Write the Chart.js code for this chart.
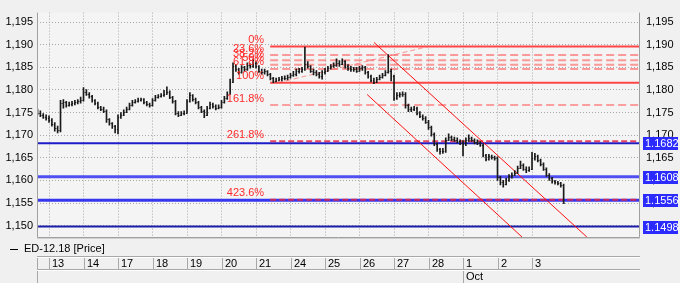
<!DOCTYPE html>
<html>
<head>
<meta charset="utf-8">
<script src="https://cdn.jsdelivr.net/npm/chart.js@4.4.0/dist/chart.umd.min.js"></script>
<style>
  html, body { margin: 0; padding: 0; background: #f0f0f0; }
  #wrap { width: 680px; height: 283px; position: relative; }
</style>
</head>
<body>
<div id="wrap"><canvas id="c"></canvas></div>
<script>
// ─── Eixo do tempo ────────────────────────────────
const dayLabels   = ['13','14','17','18','19','20','21','24','25','26','27','28','1','2','3'];
const monthLabel  = 'Oct';
const monthDayIdx = 12;          // "1" = 1 Oct
const barsPerDay  = 12;
const barsBefore  = 4;           // bars before the 13th
const seriesName  = 'ED-12.18 [Price]';

// ─── Eixo de preço ────────────────────────────────
const yTicks = [1.150, 1.155, 1.160, 1.165, 1.170, 1.175, 1.180, 1.185, 1.190, 1.195];
const yMin = 1.1475, yMax = 1.1971;

// ─── Barras OHLC (open = close anterior) ──────────
const open0 = 1.1754;
const close = [
  1.1750,1.1745,1.1741,1.1739,
  1.1733,1.1724,1.1715,1.1711,1.1771,1.1773,1.1767,1.1769,1.1771,1.1773,1.1775,1.1777,
  1.1796,1.1792,1.1786,1.1777,1.1771,1.1762,1.1758,1.1754,1.1735,1.1726,1.1720,1.1713,
  1.1741,1.1745,1.1752,1.1758,1.1767,1.1773,1.1775,1.1777,1.1779,1.1773,1.1769,1.1767,
  1.1777,1.1784,1.1786,1.1788,1.1792,1.1796,1.1784,1.1775,1.1750,1.1745,1.1748,1.1750,
  1.1775,1.1788,1.1779,1.1773,1.1762,1.1754,1.1745,1.1760,1.1769,1.1764,1.1760,1.1762,
  1.1773,1.1782,1.1792,1.1818,1.1852,1.1846,1.1839,1.1850,1.1846,1.1856,1.1852,1.1860,
  1.1852,1.1843,1.1839,1.1841,1.1835,1.1826,1.1820,1.1822,1.1824,1.1826,1.1826,1.1828,
  1.1833,1.1835,1.1841,1.1843,1.1846,1.1858,1.1852,1.1843,1.1839,1.1835,1.1831,1.1839,
  1.1843,1.1848,1.1852,1.1856,1.1860,1.1858,1.1863,1.1852,1.1848,1.1846,1.1846,1.1843,
  1.1848,1.1850,1.1839,1.1831,1.1822,1.1818,1.1824,1.1828,1.1833,1.1839,1.1843,1.1831,
  1.1782,1.1788,1.1790,1.1792,1.1767,1.1758,1.1758,1.1760,1.1750,1.1743,1.1739,1.1730,
  1.1718,1.1703,1.1681,1.1669,1.1664,1.1666,1.1690,1.1696,1.1692,1.1690,1.1688,1.1683,
  1.1681,1.1690,1.1694,1.1690,1.1686,1.1683,1.1679,1.1656,1.1647,1.1654,1.1652,1.1649,
  1.1607,1.1596,1.1592,1.1600,1.1609,1.1613,1.1617,1.1628,1.1634,1.1626,1.1622,1.1626,
  1.1649,1.1654,1.1645,1.1637,1.1626,1.1613,1.1605,1.1598,1.1596,1.1594,1.1590,1.1551
];
const high = [
  1.1758,1.1754,1.1748,1.1745,
  1.1743,1.1737,1.1728,1.1720,1.1777,1.1779,1.1775,1.1773,1.1775,1.1777,1.1779,1.1784,
  1.1805,1.1801,1.1794,1.1788,1.1779,1.1773,1.1764,1.1762,1.1756,1.1737,1.1728,1.1722,
  1.1745,1.1750,1.1756,1.1762,1.1771,1.1777,1.1779,1.1782,1.1782,1.1781,1.1775,1.1771,
  1.1781,1.1788,1.1790,1.1792,1.1799,1.1807,1.1798,1.1786,1.1777,1.1752,1.1752,1.1754,
  1.1779,1.1794,1.1790,1.1782,1.1775,1.1764,1.1756,1.1764,1.1773,1.1771,1.1767,1.1767,
  1.1777,1.1786,1.1796,1.1824,1.1860,1.1856,1.1848,1.1854,1.1852,1.1860,1.1858,1.1867,
  1.1863,1.1854,1.1846,1.1846,1.1843,1.1837,1.1828,1.1826,1.1828,1.1830,1.1831,1.1833,
  1.1837,1.1841,1.1846,1.1848,1.1850,1.1895,1.1863,1.1854,1.1846,1.1843,1.1839,1.1843,
  1.1848,1.1852,1.1856,1.1860,1.1869,1.1865,1.1869,1.1865,1.1856,1.1852,1.1850,1.1850,
  1.1852,1.1854,1.1852,1.1841,1.1833,1.1826,1.1828,1.1833,1.1837,1.1843,1.1878,1.1846,
  1.1833,1.1794,1.1794,1.1796,1.1794,1.1769,1.1762,1.1764,1.1762,1.1752,1.1745,1.1741,
  1.1733,1.1720,1.1705,1.1683,1.1671,1.1671,1.1694,1.1703,1.1698,1.1696,1.1694,1.1690,
  1.1688,1.1694,1.1701,1.1696,1.1692,1.1690,1.1686,1.1681,1.1658,1.1658,1.1656,1.1654,
  1.1652,1.1609,1.1600,1.1605,1.1613,1.1617,1.1622,1.1632,1.1643,1.1637,1.1630,1.1630,
  1.1662,1.1660,1.1656,1.1647,1.1639,1.1628,1.1615,1.1607,1.1600,1.1598,1.1596,1.1592
];
const low = [
  1.1745,1.1741,1.1737,1.1733,
  1.1728,1.1720,1.1709,1.1705,1.1707,1.1760,1.1762,1.1764,1.1765,1.1767,1.1769,1.1771,
  1.1775,1.1788,1.1782,1.1773,1.1767,1.1758,1.1754,1.1750,1.1728,1.1722,1.1715,1.1705,
  1.1703,1.1737,1.1743,1.1750,1.1756,1.1764,1.1771,1.1773,1.1775,1.1769,1.1765,1.1762,
  1.1764,1.1775,1.1782,1.1784,1.1786,1.1790,1.1781,1.1771,1.1745,1.1741,1.1743,1.1745,
  1.1748,1.1773,1.1775,1.1769,1.1758,1.1750,1.1739,1.1743,1.1758,1.1760,1.1756,1.1758,
  1.1760,1.1771,1.1779,1.1790,1.1816,1.1841,1.1835,1.1837,1.1841,1.1843,1.1848,1.1850,
  1.1848,1.1839,1.1835,1.1835,1.1831,1.1822,1.1816,1.1818,1.1820,1.1820,1.1822,1.1822,
  1.1826,1.1830,1.1831,1.1837,1.1839,1.1843,1.1848,1.1839,1.1833,1.1831,1.1826,1.1824,
  1.1835,1.1841,1.1846,1.1850,1.1852,1.1852,1.1856,1.1848,1.1843,1.1841,1.1841,1.1839,
  1.1841,1.1843,1.1835,1.1826,1.1818,1.1814,1.1816,1.1822,1.1826,1.1831,1.1837,1.1820,
  1.1777,1.1779,1.1784,1.1786,1.1760,1.1752,1.1752,1.1754,1.1745,1.1739,1.1733,1.1726,
  1.1713,1.1698,1.1677,1.1664,1.1658,1.1660,1.1662,1.1688,1.1688,1.1686,1.1683,1.1679,
  1.1654,1.1677,1.1686,1.1686,1.1681,1.1679,1.1675,1.1652,1.1643,1.1645,1.1647,1.1645,
  1.1600,1.1590,1.1585,1.1590,1.1598,1.1605,1.1611,1.1615,1.1626,1.1622,1.1617,1.1620,
  1.1624,1.1645,1.1641,1.1632,1.1622,1.1609,1.1600,1.1594,1.1592,1.1590,1.1585,1.1549
];

// ─── Fibonacci ────────────────────────────────────
const fibLevels = [0, 23.6, 38.2, 50, 61.8, 100, 161.8, 261.8, 423.6];
const fibHigh = 1.1896, fibLow = 1.1816;
const fibStartDay = 6.41;
const fibAnchor = [{ x: 6.64, y: fibLow }, { x: 10.99, y: fibHigh }];

// ─── Canal ────────────────────────────────────────
const channelUpper = [{ x: 9.42, y: 1.1905 }, { x: 15.59, y: 1.1475 }];
const channelLower = [{ x: 9.22, y: 1.1790 }, { x: 13.71, y: 1.1475 }];

// ─── Linhas azuis (suporte / resistência) ─────────
const blueLevels = [1.1682, 1.1608, 1.1556, 1.1498];
const blueColors = ['#1e1ec8', '#5050f2', '#3636ee', '#1c1caa'];
const blueWidths = [2, 3, 3, 2];

const FONT = '"Liberation Sans", Arial, sans-serif';
Chart.defaults.font.family = FONT;
Chart.defaults.font.size = 11;
Chart.defaults.color = '#000';

const barTime = i => (i - barsBefore) / barsPerDay;
const xMin = -0.348, xMax = 17.13;

function fibPrice(p) { return fibHigh - (fibHigh - fibLow) * p / 100; }

function hLine(y, color, width, dash, fromX) {
  return {
    type: 'line',
    data: [{ x: fromX, y }, { x: xMax, y }],
    borderColor: color, borderWidth: width, borderDash: dash || [],
    pointRadius: 0, yAxisID: 'y', order: 5,
  };
}

const datasets = [];

// barras high-low
datasets.push({
  type: 'bar',
  data: close.map((c, i) => ({ x: barTime(i), y: [low[i], high[i]] })),
  backgroundColor: '#1a1a1a',
  borderWidth: 0,
  barThickness: 1,
  grouped: false,
  yAxisID: 'y',
  order: 0,
});

// canal
[channelUpper, channelLower].forEach(seg => datasets.push({
  type: 'line', data: seg, borderColor: '#ff1010', borderWidth: 1,
  pointRadius: 0, yAxisID: 'y', order: 1,
}));

// linha guia do fibo
datasets.push({
  type: 'line', data: fibAnchor, borderColor: 'rgba(255,70,70,.55)', borderWidth: 1,
  borderDash: [5, 3], pointRadius: 0, yAxisID: 'y', order: 2,
});

// níveis fibo
fibLevels.forEach(p => {
  const y = fibPrice(p);
  let ds;
  if (p === 0 || p === 100)      ds = hLine(y, '#ff4646', 2, null, fibStartDay);
  else if (p < 100)              ds = hLine(y, 'rgba(255,90,90,.6)', 2, [8, 4], fibStartDay);
  else if (p === 161.8)          ds = hLine(y, 'rgba(255,100,100,.6)', 2, [8, 4], fibStartDay);
  else                           ds = hLine(y, 'rgba(225,40,70,.85)', 2, [6, 3], fibStartDay);
  ds.order = 3;
  datasets.push(ds);
});

// linhas azuis
blueLevels.forEach((v, i) => datasets.push(hLine(v, blueColors[i], blueWidths[i], null, xMin)));

// ─── Plugins ──────────────────────────────────────
const background = {
  id: 'background',
  beforeDraw(chart) {
    const { ctx, chartArea: a } = chart;
    ctx.save();
    ctx.fillStyle = '#f0f0f0';
    ctx.fillRect(0, 0, chart.width, chart.height);
    ctx.fillStyle = '#f4f4f4';
    ctx.fillRect(a.left, a.top, a.right - a.left, a.bottom - a.top);
    ctx.restore();
  },
};

const ohlcTicks = {
  id: 'ohlcTicks',
  afterDatasetsDraw(chart) {
    const { ctx, chartArea: a, scales: { x, y } } = chart;
    ctx.save();
    ctx.beginPath();
    ctx.rect(a.left, a.top, a.right - a.left, a.bottom - a.top);
    ctx.clip();
    ctx.strokeStyle = '#1a1a1a';
    ctx.lineWidth = 1;
    ctx.beginPath();
    close.forEach((c, i) => {
      const px = x.getPixelForValue(barTime(i));
      const o = i ? close[i - 1] : open0;
      const yo = Math.round(y.getPixelForValue(o)) + 0.5;
      const yc = Math.round(y.getPixelForValue(c)) + 0.5;
      ctx.moveTo(px - 1, yo); ctx.lineTo(px, yo);
      ctx.moveTo(px, yc); ctx.lineTo(px + 1, yc);
    });
    ctx.stroke();
    ctx.restore();
  },
};

const annotations = {
  id: 'annotations',
  afterDraw(chart) {
    const { ctx, chartArea: a, scales: { x, y } } = chart;
    ctx.save();
    ctx.font = '11px ' + FONT;

    // rótulos fibo
    ctx.fillStyle = '#ff2a2a';
    ctx.textAlign = 'right';
    ctx.textBaseline = 'bottom';
    const lx = x.getPixelForValue(fibStartDay) - 6;
    fibLevels.forEach(p => {
      ctx.fillText(p + '%', lx, y.getPixelForValue(fibPrice(p)) - 1);
    });

    // moldura do gráfico
    ctx.strokeStyle = '#a0a0a0';
    ctx.lineWidth = 1;
    ctx.beginPath();
    ctx.moveTo(a.left + 0.5, a.top); ctx.lineTo(a.left + 0.5, a.bottom + 0.5);
    ctx.lineTo(a.right - 0.5, a.bottom + 0.5); ctx.lineTo(a.right - 0.5, a.top);
    ctx.stroke();
    ctx.strokeStyle = '#d0d0d0';
    ctx.beginPath();
    ctx.moveTo(a.left, a.bottom + 1.5); ctx.lineTo(a.right, a.bottom + 1.5);
    ctx.stroke();

    // etiquetas azuis no eixo direito
    ctx.textAlign = 'left';
    ctx.textBaseline = 'middle';
    blueLevels.forEach(v => {
      const py = Math.round(y.getPixelForValue(v));
      ctx.fillStyle = '#2b2bff';
      ctx.fillRect(a.right + 3, py - 6, 35, 13);
      ctx.fillStyle = '#fff';
      ctx.fillText(v.toFixed(4), a.right + 5, py + 1);
    });

    // legenda da série
    ctx.fillStyle = '#000';
    ctx.fillText(seriesName, 24, 249);
    ctx.strokeStyle = '#000';
    ctx.beginPath();
    ctx.moveTo(10, 249.5); ctx.lineTo(18, 249.5);
    ctx.stroke();

    // tabela de datas
    const top = 256, mid = 269, bot = 283;
    ctx.strokeStyle = '#a8a8a8';
    ctx.beginPath();
    ctx.moveTo(a.left, top + 0.5); ctx.lineTo(a.right, top + 0.5);
    ctx.moveTo(a.left, mid + 0.5); ctx.lineTo(a.right, mid + 0.5);
    ctx.moveTo(a.left + 0.5, top); ctx.lineTo(a.left + 0.5, bot);
    dayLabels.forEach((_, i) => {
      const px = Math.round(x.getPixelForValue(i)) + 0.5;
      ctx.moveTo(px, top); ctx.lineTo(px, mid);
    });
    const mx = Math.round(x.getPixelForValue(monthDayIdx)) + 0.5;
    ctx.moveTo(mx, mid); ctx.lineTo(mx, bot);
    ctx.stroke();
    ctx.strokeStyle = '#ffffff';
    ctx.beginPath();
    ctx.moveTo(a.left, top + 1.5); ctx.lineTo(a.right, top + 1.5);
    ctx.moveTo(a.left, mid + 1.5); ctx.lineTo(a.right, mid + 1.5);
    ctx.stroke();

    ctx.fillStyle = '#000';
    dayLabels.forEach((lbl, i) => {
      ctx.fillText(lbl, Math.round(x.getPixelForValue(i)) + 3, (top + mid) / 2 + 1);
    });
    ctx.fillText(monthLabel, mx + 2.5, (mid + bot) / 2 + 1);
    ctx.restore();
  },
};

const fmtPrice = v => Number(v).toFixed(3).replace('.', ',');
const setYTicks = s => { s.ticks = yTicks.map(v => ({ value: v })); };
const dotted = { color: '#a8a8a8', lineWidth: 1, drawTicks: false };

new Chart(document.getElementById('c'), {
  type: 'line',
  data: { datasets },
  plugins: [background, ohlcTicks, annotations],
  options: {
    responsive: true,
    maintainAspectRatio: false,
    animation: false,
    events: [],
    layout: { padding: { top: 4, left: 0, right: 0, bottom: 0 } },
    plugins: { legend: { display: false }, tooltip: { enabled: false } },
    scales: {
      x: {
        type: 'linear', min: xMin, max: xMax, offset: false,
        afterBuildTicks: s => { s.ticks = dayLabels.map((_, i) => ({ value: i })); },
        afterFit: s => { s.height = 46; },
        ticks: { display: false },
        grid: { ...dotted, offset: false },
        border: { display: false, dash: [1, 2] },
      },
      y: {
        position: 'left', min: yMin, max: yMax,
        afterBuildTicks: setYTicks,
        afterFit: s => { s.width = 37; },
        ticks: { padding: 4, callback: fmtPrice, color: '#000' },
        grid: dotted,
        border: { display: false, dash: [1, 2] },
      },
      y2: {
        position: 'right', min: yMin, max: yMax,
        afterBuildTicks: setYTicks,
        afterFit: s => { s.width = 40; },
        ticks: { padding: 6, callback: fmtPrice, color: '#000' },
        grid: { display: false, drawTicks: false },
        border: { display: false },
      },
    },
  },
});
</script>
</body>
</html>
